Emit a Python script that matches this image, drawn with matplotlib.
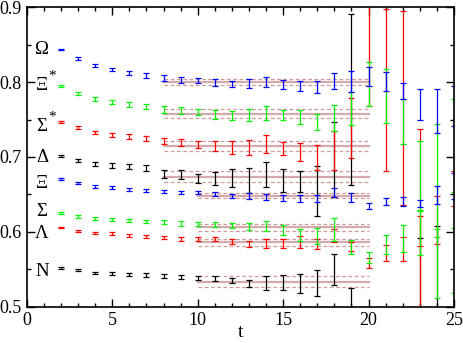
import numpy as np
import matplotlib
matplotlib.use("Agg")
import matplotlib.pyplot as plt
from matplotlib.ticker import MultipleLocator

plt.rcParams['font.family'] = ['Liberation Serif', 'DejaVu Serif']

nan = np.nan

# ---------------- DATA ----------------
t = list(range(2, 26))

omega = [0.8436, 0.8316, 0.8227, 0.8169, 0.8124, 0.8093, 0.8051, 0.8033, 0.8022, 0.7996, 0.7973, 0.7980,
         0.7996, 0.7969, 0.7947, 0.7933, 0.8009, 0.8007, 0.8076, 0.8004, 0.7878, 0.7698, 0.7613, 0.7680]
omega_err = [0.0012, 0.0016, 0.0020, 0.0024, 0.0028, 0.0032, 0.0038, 0.0038, 0.0040, 0.0044, 0.0044, 0.0056,
             0.0067, 0.0058, 0.0062, 0.0076, 0.0107, 0.0144, 0.0129, 0.0125, 0.0105, 0.0205, 0.0297, 0.0267]

xistar = [0.7943, 0.7849, 0.7773, 0.7733, 0.7703, 0.7671, 0.7633, 0.7618, 0.7602, 0.7571, 0.7551, 0.7560,
          0.7587, 0.7558, 0.7535, 0.7464, 0.7522, 0.7643, 0.7976, 0.7813, 0.7469, 0.6756, 0.6276, 0.7153]
xistar_err = [0.0014, 0.0018, 0.0022, 0.0026, 0.0030, 0.0034, 0.0042, 0.0049, 0.0042, 0.0060, 0.0062, 0.0076,
              0.0089, 0.0069, 0.0095, 0.0105, 0.0170, 0.0222, 0.0296, 0.0356, 0.0300, 0.0460, 0.1160, 0.0616]

sigstar = [0.7467, 0.7396, 0.7329, 0.7297, 0.7271, 0.7244, 0.7209, 0.7196, 0.7167, 0.7144, 0.7124, 0.7127,
           0.7171, 0.7116, 0.7064, 0.6990, 0.7089, 0.7382, 0.8600, 0.7900, 0.7656, 0.6000, nan, 0.6582]
sigstar_err = [0.0014, 0.0018, 0.0022, 0.0026, 0.0030, 0.0034, 0.0040, 0.0049, 0.0051, 0.0064, 0.0084, 0.0104,
               0.0118, 0.0084, 0.0122, 0.0170, 0.0260, 0.0400, 0.0923, 0.1083, 0.1296, 0.1370, nan, 0.0235]

delta = [0.7017, 0.6956, 0.6903, 0.6884, 0.6870, 0.6853, 0.6771, 0.6767, 0.6716, 0.6711, 0.6720, 0.6683,
         0.6767, 0.6687, 0.6678, 0.6550, 0.6970, 0.7767, nan, nan, nan, nan, nan, nan]
delta_err = [0.0012, 0.0018, 0.0024, 0.0030, 0.0036, 0.0042, 0.0051, 0.0056, 0.0058, 0.0089, 0.0116, 0.0167,
             0.0171, 0.0150, 0.0140, 0.0335, 0.0500, 0.1140, nan, nan, nan, nan, nan, nan]

xi = [0.6703, 0.6649, 0.6604, 0.6591, 0.6560, 0.6551, 0.6538, 0.6524, 0.6524, 0.6511, 0.6480, 0.6480,
      0.6462, 0.6453, 0.6444, 0.6449, 0.6527, 0.6460, 0.6347, 0.6404, 0.6409, 0.6378, 0.6493, 0.6610]
xi_err = [0.0012, 0.0014, 0.0016, 0.0018, 0.0020, 0.0021, 0.0022, 0.0022, 0.0024, 0.0027, 0.0030, 0.0044,
          0.0040, 0.0042, 0.0044, 0.0045, 0.0056, 0.0056, 0.0044, 0.0045, 0.0062, 0.0053, 0.0120, 0.0173]

sigma = [0.6249, 0.6204, 0.6177, 0.6169, 0.6147, 0.6138, 0.6133, 0.6111, 0.6107, 0.6098, 0.6084, 0.6071,
         0.6078, 0.6027, 0.5958, 0.5947, 0.6027, 0.5798, 0.5656, 0.5831, 0.5911, 0.5984, 0.5987, 0.5616]
sigma_err = [0.0014, 0.0016, 0.0018, 0.0020, 0.0022, 0.0024, 0.0025, 0.0027, 0.0029, 0.0035, 0.0038, 0.0053,
             0.0073, 0.0067, 0.0078, 0.0110, 0.0156, 0.0096, 0.0073, 0.0129, 0.0182, 0.0300, 0.0050, 0.0433]

lam = [0.6058, 0.6009, 0.5982, 0.5973, 0.5951, 0.5943, 0.5920, 0.5902, 0.5898, 0.5902, 0.5867, 0.5836,
       0.5842, 0.5844, 0.5858, 0.5836, 0.5953, 0.5798, 0.5582, 0.5716, 0.5767, 0.6009, 0.6156, nan]
lam_err = [0.0012, 0.0014, 0.0016, 0.0018, 0.0020, 0.0021, 0.0022, 0.0024, 0.0027, 0.0030, 0.0033, 0.0044,
           0.0060, 0.0062, 0.0080, 0.0067, 0.0083, 0.0060, 0.0067, 0.0111, 0.0163, 0.0204, 0.0316, nan]

nuc = [0.5516, 0.5484, 0.5449, 0.5440, 0.5431, 0.5422, 0.5409, 0.5391, 0.5382, 0.5378, 0.5351, 0.5311,
       0.5316, 0.5324, 0.5311, 0.5316, 0.5498, 0.4900, nan, nan, nan, 0.4500, 0.4500, nan]
nuc_err = [0.0012, 0.0014, 0.0016, 0.0018, 0.0020, 0.0021, 0.0022, 0.0027, 0.0024, 0.0036, 0.0033, 0.0049,
           0.0089, 0.0098, 0.0129, 0.0178, 0.0205, 0.0353, nan, nan, nan, 0.1416, 0.1577, nan]

# fit bands: (t start, t end, value, error)
fit_start = [8, 8, 8, 8, 10, 10, 10, 10]
fit_end = [20, 20, 20, 20, 20, 20, 20, 20]
fit_val = [0.8000, 0.7575, 0.7151, 0.6736, 0.6480, 0.6062, 0.5860, 0.5335]
fit_err = [0.0044, 0.0060, 0.0067, 0.0071, 0.0033, 0.0045, 0.0043, 0.0070]

# labels
names = ["Ω", "Ξ", "Σ", "Δ", "Ξ", "Σ", "Λ", "N"]
stars = [False, True, True, False, False, False, False, False]
name_y = [0.843, 0.796, 0.741, 0.6995, 0.664, 0.6276, 0.5983, 0.5471]

# ---------------- PLOT ----------------
fig = plt.figure(figsize=(4.63, 3.43), dpi=100)
ax = fig.add_axes([0.058, 0.106, 0.9226, 0.8727])

for s, e, v, er in zip(fit_start, fit_end, fit_val, fit_err):
    ax.plot([s, e], [v, v], color='#d4aaaa', lw=1.6, zorder=1)
    ax.plot([s, e], [v + er, v + er], color='#cc9c9c', lw=0.9, dashes=(3, 2), zorder=1)
    ax.plot([s, e], [v - er, v - er], color='#cc9c9c', lw=0.9, dashes=(3, 2), zorder=1)

series = [
    (nuc, nuc_err, 'black'),
    (delta, delta_err, 'black'),
    (lam, lam_err, '#ff0000'),
    (sigstar, sigstar_err, '#ff0000'),
    (sigma, sigma_err, '#00f000'),
    (xistar, xistar_err, '#00f000'),
    (xi, xi_err, '#0000ff'),
    (omega, omega_err, '#0000ff'),
]
for vals, errs, col in series:
    ax.errorbar(t, np.array(vals, dtype=float), yerr=np.array(errs, dtype=float), fmt='none',
                ecolor=col, elinewidth=0.9, capsize=2.3, capthick=0.9, zorder=2)

# baryon names at left
for nm, st, y in zip(names, stars, name_y):
    ax.text(0.88, y, nm, fontsize=13.5, ha='center', va='center')
    if st:
        ax.text(1.45, y + 0.012, "*", fontsize=11, ha='center', va='center')

ax.set_xlim(0, 25)
ax.set_ylim(0.5, 0.9)
ax.xaxis.set_major_locator(MultipleLocator(5))
ax.xaxis.set_minor_locator(MultipleLocator(1))
ax.yaxis.set_major_locator(MultipleLocator(0.1))
ax.yaxis.set_minor_locator(MultipleLocator(0.05))
ax.tick_params(which='both', direction='in', top=True, right=True, labelsize=13, width=1)
ax.tick_params(which='major', length=5.5, pad=4)
ax.tick_params(which='minor', length=3)
ax.set_yticks([0.5, 0.6, 0.7, 0.8, 0.9])
ax.set_yticklabels(["0.5", "0.6", "0.7", "0.8", "0.9"])
ax.set_xlabel("t", fontsize=14, labelpad=-4)
for sp in ax.spines.values():
    sp.set_linewidth(1.2)

fig.savefig("out.png", dpi=100)
